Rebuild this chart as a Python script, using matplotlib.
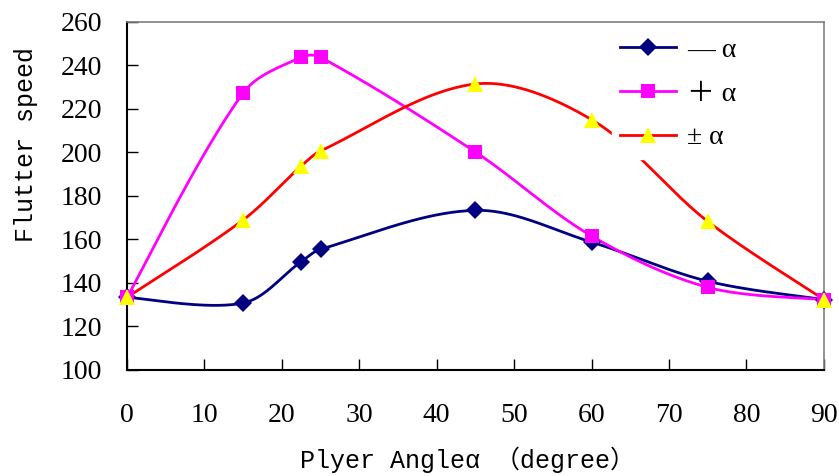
from matplotlib import pyplot as plt
import numpy as np

plt.rcParams['font.family'] = ['Liberation Serif', 'Noto Sans CJK SC', 'DejaVu Sans']

angle = [0, 15, 22.5, 25, 45, 60, 75, 90]
minus_a = [133.4, 130.8, 149.8, 155.5, 173.4, 158.8, 140.8, 132.4]
plus_a = [133.4, 227.4, 243.8, 243.8, 200.2, 161.6, 138.0, 132.4]
pm_a = [133.4, 169.0, 193.8, 200.7, 231.5, 215.1, 168.3, 132.4]
labels = ["— α", "＋ α", "± α"]
colors = ["#000080", "#ff00ff", "#ff0000"]
markers = ["D", "s", "^"]
mfaces = ["#000080", "#ff00ff", "#ffff00"]
msizes = [9.5, 10.5, 11.5]


def smooth(x, y, n=40, sx=7.74, sy=2.17):
    # bezier through the points, tangents weighted by segment length (like excel smoothed line)
    pts = np.column_stack([np.asarray(x, float) * sx, np.asarray(y, float) * sy])
    out = []
    m = len(pts)
    for i in range(m - 1):
        p0 = pts[i - 1] if i > 0 else pts[i]
        p1 = pts[i]
        p2 = pts[i + 1]
        p3 = pts[i + 2] if i + 2 < m else pts[i + 1]
        d01 = np.hypot(*(p1 - p0))
        d12 = np.hypot(*(p2 - p1))
        d23 = np.hypot(*(p3 - p2))
        if i == 0:
            c1 = p1 + (p2 - p1) / 6
        else:
            c1 = p1 + (p2 - p0) * d12 / (d01 + d12) / 3
        if i + 2 >= m:
            c2 = p2 - (p2 - p1) / 6
        else:
            c2 = p2 - (p3 - p1) * d12 / (d12 + d23) / 3
        t = np.linspace(0, 1, n)[:, None]
        seg = ((1 - t) ** 3) * p1 + 3 * ((1 - t) ** 2) * t * c1 + 3 * (1 - t) * t ** 2 * c2 + t ** 3 * p2
        out.append(seg)
    out = np.vstack(out)
    return out[:, 0] / sx, out[:, 1] / sy


fig = plt.figure(figsize=(8.39, 4.76), dpi=100)
ax = fig.add_axes([0.1514, 0.2227, 0.8306, 0.7311])

for i, ys in enumerate([minus_a, plus_a, pm_a]):
    sx, sy = smooth(angle, ys)
    ax.plot(sx, sy, color=colors[i], lw=2, zorder=2)
    ax.plot(angle, ys, linestyle="none", marker=markers[i], color=mfaces[i],
            markersize=msizes[i], markeredgewidth=0, zorder=3 + i, clip_on=False)

# legend proxies
handles = []
for i in range(3):
    h, = ax.plot([], [], color=colors[i], lw=2, marker=markers[i], markerfacecolor=mfaces[i],
                 markeredgewidth=0, markersize=msizes[i])
    handles.append(h)
leg = ax.legend(handles, labels, loc="upper left", bbox_to_anchor=(612 / 839, 1 - 29 / 476),
                bbox_transform=fig.transFigure, frameon=True, framealpha=1, edgecolor="white",
                fancybox=False, fontsize=20, handlelength=2.0, labelspacing=0.66,
                borderpad=0.3, borderaxespad=0, handletextpad=0.4)
leg.set_zorder(10)

ax.set_xlim(0, 90)
ax.set_ylim(100, 260)
ax.set_xticks(range(0, 91, 10))
ax.set_yticks(range(100, 261, 20))
ax.tick_params(direction="in", length=8, width=1, labelsize=20)
ax.tick_params(axis="x", pad=24)
ax.tick_params(axis="y", pad=18)
for s in ["left", "bottom"]:
    ax.spines[s].set_color("black")
    ax.spines[s].set_linewidth(1.5)
for s in ["top", "right"]:
    ax.spines[s].set_color("#808080")
    ax.spines[s].set_linewidth(1.2)

ax.set_xlabel("Plyer Angleα （degree）", fontsize=18, family=["Liberation Mono", "Noto Sans CJK SC"])
ax.set_ylabel("Flutter speed", fontsize=18, family=["Liberation Mono", "Noto Sans CJK SC"])
ax.xaxis.set_label_coords(0.489, -0.221)
ax.yaxis.set_label_coords(-0.128, 0.647)

fig.savefig("out.png", dpi=100)
